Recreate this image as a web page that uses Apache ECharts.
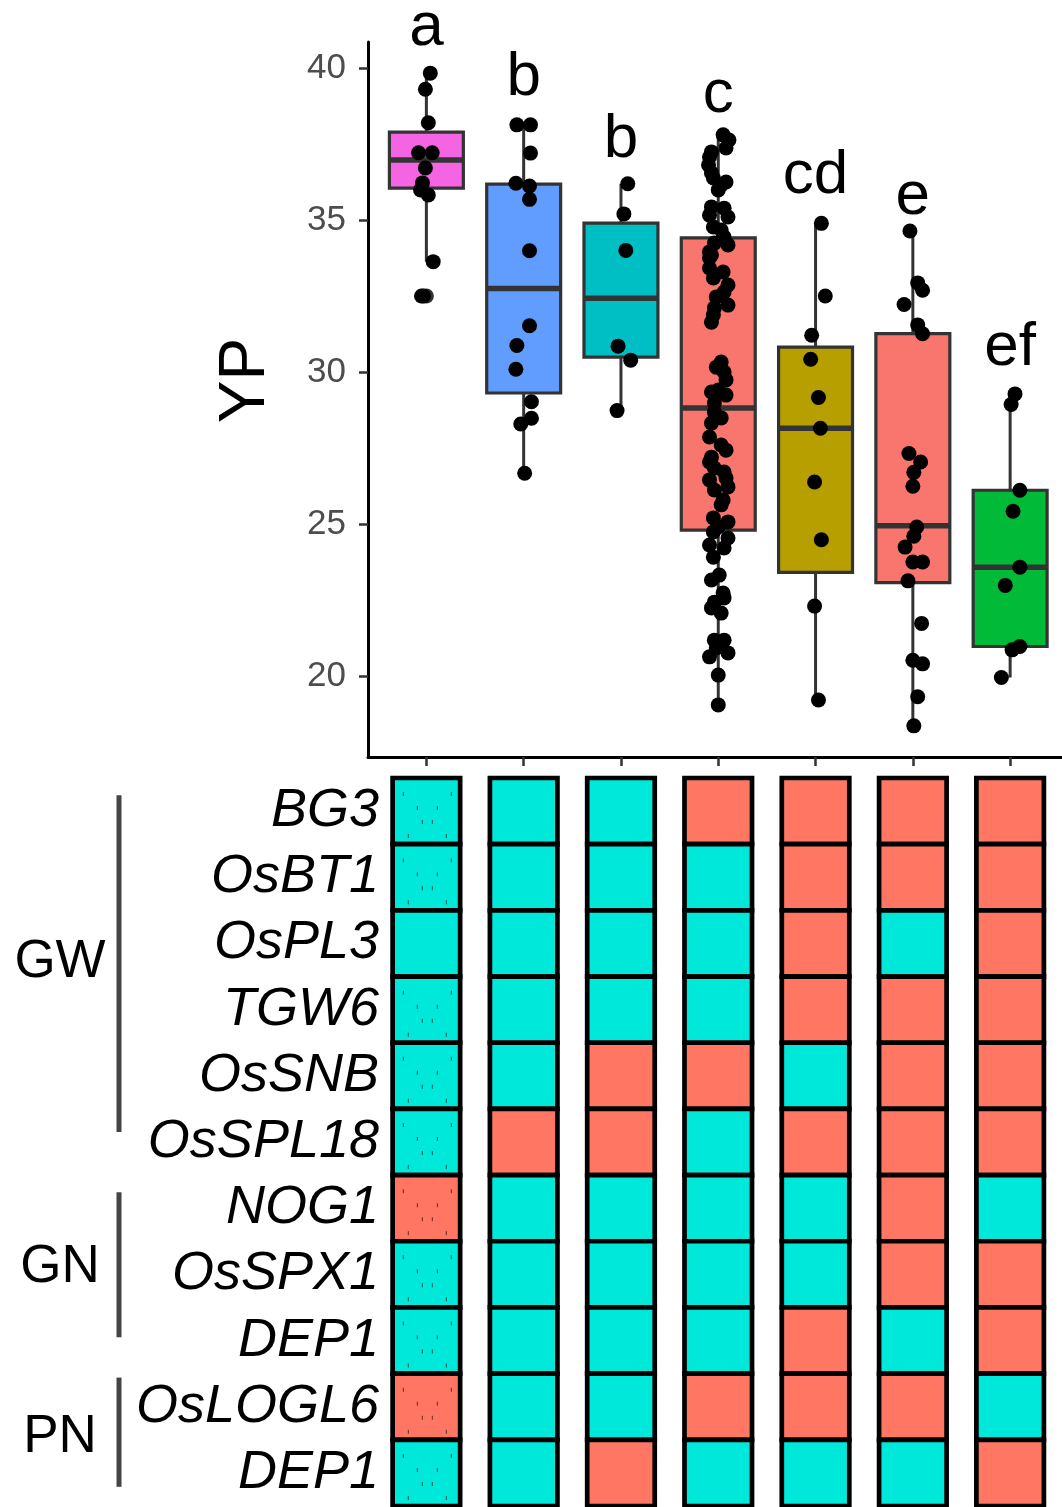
<!DOCTYPE html>
<html><head><meta charset="utf-8">
<script src="https://cdn.jsdelivr.net/npm/echarts@6/dist/echarts.min.js"></script>
<style>html,body{margin:0;padding:0;background:#fff}#c{width:1062px;height:1507px}</style>
</head><body><div id="c"></div>
<script>
// ---------- data ----------
const letters = ['a', 'b', 'b', 'c', 'cd', 'e', 'ef'];
const letterY = [41.32, 39.67, 37.63, 39.11, 36.45, 35.75, 30.79];
const boxColors = ['#F564E3', '#619CFF', '#00BFC4', '#F8766D', '#B79F00', '#F8766D', '#00BA38'];
// [whisker low, Q1, median, Q3, whisker high]
const boxStats = [
  [33.63, 36.05, 36.97, 37.89, 39.83],
  [26.67, 29.31, 32.75, 36.18, 38.13],
  [28.73, 30.49, 32.43, 34.90, 36.19],
  [19.05, 24.80, 28.82, 34.41, 37.80],
  [19.21, 23.41, 28.15, 30.82, 34.89],
  [18.36, 23.07, 24.94, 31.26, 34.64],
  [19.95, 20.97, 23.58, 26.11, 29.28]
];
const outliers = [[1, 32.50]];
// jittered points: YP values and horizontal jitter offsets (category units)
const yp1 = [39.83, 39.30, 38.20, 37.21, 37.21, 36.71, 36.22, 35.99, 35.82, 33.63, 32.50, 32.50];
const jit1 = [0.04, -0.01, 0.02, -0.08, 0.06, -0.01, -0.04, -0.06, 0.02, 0.07, -0.03, -0.05];
const yp2 = [38.13, 38.13, 37.20, 36.21, 36.12, 35.68, 33.99, 31.52, 30.87, 30.09, 29.02, 28.48, 28.29, 26.67];
const jit2 = [-0.07, 0.07, 0.07, -0.08, 0.06, 0.06, 0.06, 0.06, -0.07, -0.08, 0.08, 0.08, -0.03, 0.01];
const yp3 = [36.19, 35.20, 34.00, 30.85, 30.39, 28.73];
const jit3 = [0.07, 0.03, 0.05, -0.03, 0.10, -0.04];
const yp4 = [37.80, 37.63, 37.37, 37.24, 37.07, 36.81, 36.55, 36.38, 36.25, 36.15, 35.99, 35.43, 35.39, 35.16, 35.10,
  34.77, 34.67, 34.44, 34.24, 34.18, 33.95, 33.85, 33.75, 33.42, 33.29, 33.09, 32.86, 32.63, 32.47, 32.20, 32.11,
  31.88, 31.64, 30.33, 30.16, 30.00, 29.74, 29.41, 29.34, 29.24, 28.98, 28.68, 28.49, 28.32, 27.86, 27.60, 27.43,
  27.20, 27.04, 26.84, 26.71, 26.51, 26.45, 26.22, 26.12, 25.79, 25.63, 25.20, 25.07, 24.90, 24.74, 24.54, 24.31,
  24.21, 23.91, 23.32, 23.16, 22.73, 22.57, 22.43, 22.24, 22.07, 21.18, 21.18, 20.92, 20.76, 20.63, 20.03, 19.05];
const jit4 = [0.05, 0.11, 0.08, -0.07, -0.09, -0.10, -0.07, -0.05, 0.08, 0.03, 0.00, -0.07, 0.06, -0.09, 0.10,
  -0.05, 0.03, 0.06, -0.04, 0.10, -0.09, -0.07, -0.09, -0.09, 0.05, -0.05, 0.10, 0.06, -0.02, 0.10, -0.04,
  -0.05, -0.07, 0.03, -0.02, 0.06, 0.08, 0.00, -0.07, 0.08, -0.04, -0.04, 0.03, -0.07, -0.09, 0.03, 0.08,
  -0.07, -0.09, -0.04, 0.06, 0.08, -0.09, 0.10, -0.04, 0.05, 0.03, -0.05, 0.10, 0.00, -0.05, 0.10, -0.09,
  0.06, -0.05, 0.01, -0.07, 0.05, 0.06, -0.04, -0.07, 0.03, -0.04, 0.06, -0.02, 0.10, -0.09, 0.00, 0.00];
const yp5 = [34.89, 32.50, 31.21, 30.42, 29.16, 28.15, 26.38, 24.48, 22.30, 19.21];
const jit5 = [0.06, 0.10, -0.04, -0.05, 0.03, 0.05, -0.01, 0.06, -0.01, 0.03];
const yp6 = [34.64, 32.93, 32.69, 32.22, 31.55, 31.26, 27.32, 27.04, 26.70, 26.24, 24.90, 24.60, 24.24, 23.75, 23.75,
  23.13, 21.73, 20.52, 20.40, 19.32, 18.36];
const jit6 = [-0.03, 0.05, 0.10, -0.09, 0.05, 0.10, -0.04, 0.08, 0.01, 0.00, 0.04, 0.01, -0.08, 0.00, 0.10,
  -0.05, 0.09, 0.00, 0.10, 0.05, 0.01];
const yp7 = [29.28, 28.93, 26.11, 25.42, 23.58, 22.98, 20.97, 20.86, 19.95];
const jit7 = [0.05, 0.01, 0.10, 0.03, 0.10, -0.05, 0.10, 0.02, -0.09];
const ypTicks = [20, 25, 30, 35, 40];

const genes = ['BG3', 'OsBT1', 'OsPL3', 'TGW6', 'OsSNB', 'OsSPL18', 'NOG1', 'OsSPX1', 'DEP1', 'OsLOGL6', 'DEP1'];
// allele state per gene (row) and group (column): 0 = cyan allele, 1 = red allele
const alleles = [
  [0, 0, 0, 1, 1, 1, 1],
  [0, 0, 0, 0, 1, 1, 1],
  [0, 0, 0, 0, 1, 0, 1],
  [0, 0, 0, 0, 1, 1, 1],
  [0, 0, 1, 1, 0, 1, 1],
  [0, 1, 1, 0, 1, 1, 1],
  [1, 0, 0, 0, 0, 1, 0],
  [0, 0, 0, 0, 0, 1, 1],
  [0, 0, 0, 0, 1, 0, 1],
  [1, 0, 0, 1, 1, 1, 0],
  [0, 0, 1, 0, 0, 0, 1]
];
// first-column cells drawn with a dotted texture
const dottedFirst = [1, 1, 0, 1, 1, 1, 1, 1, 1, 1, 1];
const traitGroups = ['GW', 'GN', 'PN'];
const traitLabelRow = [2.28, 6.9, 9.47];
const traitBarFrom = [-0.24, 5.76, 8.56];
const traitBarTo = [4.85, 7.95, 10.21];

// ---------- build ----------
const FONT = '"Liberation Sans", Arial, Helvetica, sans-serif';
const CYAN = '#00E8D9', RED = '#FF7763';
const ypAll = [yp1, yp2, yp3, yp4, yp5, yp6, yp7];
const jitAll = [jit1, jit2, jit3, jit4, jit5, jit6, jit7];
const points = [];
ypAll.forEach((arr, g) => arr.forEach((v, i) => points.push([g + 1 + jitAll[g][i], v])));
const boxData = boxStats.map((s, g) => [g + 1].concat(s));
const letterData = letters.map((t, g) => [g + 1, letterY[g], g]);
const cellData = [];
alleles.forEach((row, r) => row.forEach((s, c) => cellData.push([c + 1, r, s, c === 0 ? dottedFirst[r] : 0])));
const groupData = traitGroups.map((n, i) => [traitBarFrom[i], traitBarTo[i], traitLabelRow[i], i]);
const xTicks = letters.map((t, g) => g + 1);

const dotOffsets = [[-23, -17], [25, -17], [-9, -3], [11, -3], [-4, 11], [6, 11], [-18, 25], [20, 25]];

function renderBox(params, api) {
  const x = api.value(0);
  const lo = api.coord([x, api.value(1)]);
  const q1 = api.coord([x, api.value(2)]);
  const md = api.coord([x, api.value(3)]);
  const q3 = api.coord([x, api.value(4)]);
  const hi = api.coord([x, api.value(5)]);
  const w = api.size([0.76, 0])[0];
  const cx = lo[0];
  return {
    type: 'group', children: [
      { type: 'line', shape: { x1: cx, y1: lo[1], x2: cx, y2: q1[1] }, style: { stroke: '#333', lineWidth: 3 } },
      { type: 'line', shape: { x1: cx, y1: q3[1], x2: cx, y2: hi[1] }, style: { stroke: '#333', lineWidth: 3 } },
      { type: 'rect', shape: { x: cx - w / 2, y: q3[1], width: w, height: q1[1] - q3[1] }, style: { fill: boxColors[params.dataIndex], stroke: '#333', lineWidth: 3.2 } },
      { type: 'line', shape: { x1: cx - w / 2, y1: md[1], x2: cx + w / 2, y2: md[1] }, style: { stroke: '#333', lineWidth: 5.5 } }
    ]
  };
}

function renderLetter(params, api) {
  const p = api.coord([api.value(0), api.value(1)]);
  return { type: 'text', style: { x: p[0], y: p[1], text: letters[api.value(2)], fill: '#000', font: '62px ' + FONT, align: 'center', verticalAlign: 'middle' } };
}

function renderCell(params, api) {
  const c = api.coord([api.value(0), api.value(1)]);
  const w = api.size([0.694, 0])[0];
  const h = api.size([0, 1])[1];
  const s = api.value(2), dot = api.value(3);
  const children = [{ type: 'rect', shape: { x: c[0] - w / 2, y: c[1] - h / 2, width: w, height: h }, style: { fill: s ? RED : CYAN, stroke: '#000', lineWidth: 4.7 } }];
  if (dot) {
    dotOffsets.forEach(([dx, dy]) => children.push({ type: 'rect', shape: { x: c[0] + dx - 0.6, y: c[1] + dy - 2, width: 1.2, height: 4 }, style: { fill: s ? '#7a3a30' : '#0d6d68' } }));
  }
  return { type: 'group', children };
}

function renderGroup(params, api) {
  const rect = params.coordSys;
  const y0 = api.coord([1, 0])[1];
  const band = api.size([0, 1])[1];
  const top = y0 + api.value(0) * band;
  const bot = y0 + api.value(1) * band;
  const ly = y0 + api.value(2) * band;
  const barX = rect.x - 249, labX = rect.x - 308;
  return {
    type: 'group', children: [
      { type: 'rect', shape: { x: barX - 2.5, y: top, width: 5, height: bot - top }, style: { fill: '#444' } },
      { type: 'text', style: { x: labX, y: ly, text: traitGroups[api.value(3)], fill: '#000', font: '53px ' + FONT, align: 'center', verticalAlign: 'middle' } }
    ]
  };
}

const chart = echarts.init(document.getElementById('c'), null, { renderer: 'canvas' });
chart.setOption({
  animation: false,
  backgroundColor: '#fff',
  grid: [
    { left: 368, top: 42, width: 694, height: 715, containLabel: false },
    { left: 368, top: 778, width: 694, height: 728, containLabel: false }
  ],
  xAxis: [
    {
      gridIndex: 0, type: 'value', min: 0.4, max: 7.533,
      axisLine: { show: true, onZero: false, lineStyle: { color: '#000', width: 3 } },
      axisTick: { show: true, customValues: xTicks, length: 9, lineStyle: { color: '#333', width: 2.5 } },
      axisLabel: { show: false }, splitLine: { show: false }
    },
    { gridIndex: 1, type: 'value', min: 0.4, max: 7.533, show: false, splitLine: { show: false } }
  ],
  yAxis: [
    {
      gridIndex: 0, type: 'value', min: 17.336, max: 40.855,
      name: 'YP', nameLocation: 'middle', nameGap: 90,
      nameTextStyle: { fontSize: 64, color: '#000', fontFamily: FONT, padding: [0, 0, 0, 38] },
      axisLine: { show: true, onZero: false, lineStyle: { color: '#000', width: 3 } },
      axisTick: { show: true, customValues: ypTicks, length: 9, lineStyle: { color: '#333', width: 2.5 } },
      axisLabel: { customValues: ypTicks, fontSize: 35, color: '#4D4D4D', fontFamily: FONT, margin: 22 },
      splitLine: { show: false }
    },
    {
      gridIndex: 1, type: 'category', data: genes, inverse: true,
      axisLine: { show: false }, axisTick: { show: false }, splitLine: { show: false },
      axisLabel: { interval: 0, fontSize: 54, fontStyle: 'italic', color: '#000', fontFamily: FONT, margin: -11 }
    }
  ],
  series: [
    { type: 'custom', xAxisIndex: 0, yAxisIndex: 0, renderItem: renderBox, data: boxData, silent: true, z: 2 },
    { type: 'scatter', xAxisIndex: 0, yAxisIndex: 0, data: outliers, symbolSize: 15, itemStyle: { color: '#333', opacity: 1 }, silent: true, z: 3 },
    { type: 'scatter', xAxisIndex: 0, yAxisIndex: 0, data: points, symbolSize: 15, itemStyle: { color: '#000', opacity: 1 }, silent: true, z: 4 },
    { type: 'custom', xAxisIndex: 0, yAxisIndex: 0, renderItem: renderLetter, data: letterData, silent: true, clip: false, z: 5 },
    { type: 'custom', xAxisIndex: 1, yAxisIndex: 1, renderItem: renderCell, data: cellData, silent: true, clip: false },
    { type: 'custom', xAxisIndex: 1, yAxisIndex: 1, renderItem: renderGroup, data: groupData, silent: true, clip: false }
  ]
});
</script>
</body></html>
